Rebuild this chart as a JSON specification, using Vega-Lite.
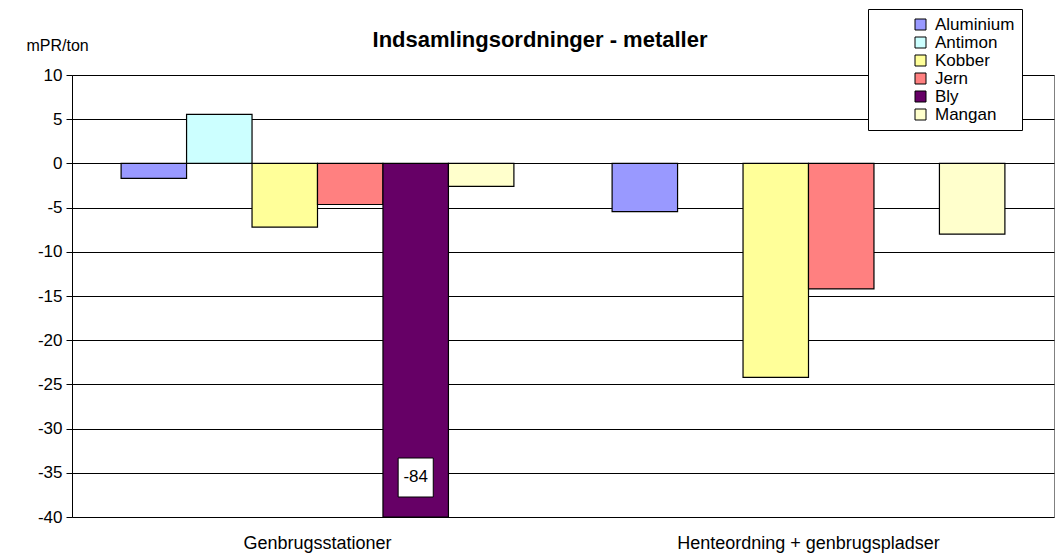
{
  "$schema": "https://vega.github.io/schema/vega-lite/v6.json",
  "width": 982,
  "height": 442,
  "autosize": {"type": "none"},
  "padding": {"left": 72, "top": 75, "right": 1, "bottom": 41},
  "background": "white",
  "config": {
    "font": "Liberation Sans",
    "view": {"stroke": "#808080", "strokeWidth": 1, "fill": "white"}
  },
  "title": {
    "text": "Indsamlingsordninger - metaller",
    "fontSize": 22,
    "fontWeight": "bold",
    "color": "black",
    "anchor": "middle",
    "frame": "group",
    "baseline": "alphabetic",
    "dx": -23,
    "offset": 0,
    "dy": 60
  },
  "data": {
    "values": [
      {"Category": "Genbrugsstationer", "Series": "Aluminium", "value": -1.7},
      {"Category": "Genbrugsstationer", "Series": "Antimon", "value": 5.55},
      {"Category": "Genbrugsstationer", "Series": "Kobber", "value": -7.2},
      {"Category": "Genbrugsstationer", "Series": "Jern", "value": -4.65},
      {"Category": "Genbrugsstationer", "Series": "Bly", "value": -84},
      {"Category": "Genbrugsstationer", "Series": "Mangan", "value": -2.6},
      {"Category": "Henteordning + genbrugspladser", "Series": "Aluminium", "value": -5.45},
      {"Category": "Henteordning + genbrugspladser", "Series": "Kobber", "value": -24.2},
      {"Category": "Henteordning + genbrugspladser", "Series": "Jern", "value": -14.2},
      {"Category": "Henteordning + genbrugspladser", "Series": "Mangan", "value": -8.0}
    ]
  },
  "encoding": {
    "x": {
      "field": "Category",
      "type": "nominal",
      "sort": ["Genbrugsstationer", "Henteordning + genbrugspladser"],
      "scale": {"paddingInner": 0.2, "paddingOuter": 0.1},
      "axis": {
        "title": null,
        "labelAngle": 0,
        "labelFontSize": 18,
        "labelColor": "black",
        "labelPadding": 17,
        "labelLimit": 500,
        "ticks": false,
        "domain": false,
        "grid": false
      }
    },
    "xOffset": {
      "field": "Series",
      "type": "nominal",
      "sort": ["Aluminium", "Antimon", "Kobber", "Jern", "Bly", "Mangan"],
      "scale": {"paddingInner": 0, "paddingOuter": 0}
    },
    "y": {
      "field": "value",
      "type": "quantitative",
      "scale": {"domain": [-40, 10], "clamp": true, "nice": false, "zero": false},
      "axis": {
        "title": "mPR/ton",
        "titleAngle": 0,
        "titleAlign": "left",
        "titleBaseline": "alphabetic",
        "titleX": -46,
        "titleY": -25,
        "titleFontSize": 16,
        "titleFontWeight": "normal",
        "titleColor": "black",
        "values": [-40, -35, -30, -25, -20, -15, -10, -5, 0, 5, 10],
        "labelExpr": "replace(datum.label, '\u2212', '-')",
        "labelFontSize": 17,
        "labelColor": "black",
        "labelPadding": 4,
        "tickSize": 6,
        "tickColor": "black",
        "domainColor": "black",
        "grid": true,
        "gridColor": "black",
        "gridOpacity": 1,
        "gridWidth": 1
      }
    }
  },
  "layer": [
    {
      "mark": {"type": "bar", "stroke": "black", "strokeWidth": 1.2, "clip": true},
      "encoding": {
        "color": {
          "field": "Series",
          "type": "nominal",
          "sort": ["Aluminium", "Antimon", "Kobber", "Jern", "Bly", "Mangan"],
          "scale": {
            "domain": ["Aluminium", "Antimon", "Kobber", "Jern", "Bly", "Mangan"],
            "range": ["#9999FF", "#CCFFFF", "#FFFF99", "#FF8080", "#660066", "#FFFFCC"]
          },
          "legend": {
            "title": null,
            "orient": "none",
            "legendX": 796,
            "legendY": -66,
            "direction": "vertical",
            "fillColor": "white",
            "strokeColor": "black",
            "padding": 7,
            "symbolOffset": 37,
            "symbolType": "square",
            "symbolSize": 121,
            "symbolStrokeColor": "black",
            "symbolStrokeWidth": 1,
            "symbolOpacity": 1,
            "labelFontSize": 17,
            "labelColor": "black",
            "labelOffset": 6,
            "rowPadding": 0,
            "labelExpr": "datum.label + '\u00a0\u00a0\u00a0\u00a0\u00a0\u00a0\u00a0\u00a0\u00a0'"
          }
        }
      }
    },
    {
      "transform": [{"filter": "datum.value < -40"}],
      "mark": {
        "type": "point",
        "shape": "M -0.9 -1 L 0.9 -1 L 0.9 1 L -0.9 1 Z",
        "size": 1521,
        "filled": true,
        "fill": "white",
        "stroke": "black",
        "strokeWidth": 1,
        "opacity": 1,
        "yOffset": -39.5
      }
    },
    {
      "transform": [{"filter": "datum.value < -40"}],
      "mark": {
        "type": "text",
        "fontSize": 17,
        "color": "black",
        "baseline": "middle",
        "align": "center",
        "dy": -40
      },
      "encoding": {"text": {"field": "value", "type": "nominal"}}
    }
  ]
}
